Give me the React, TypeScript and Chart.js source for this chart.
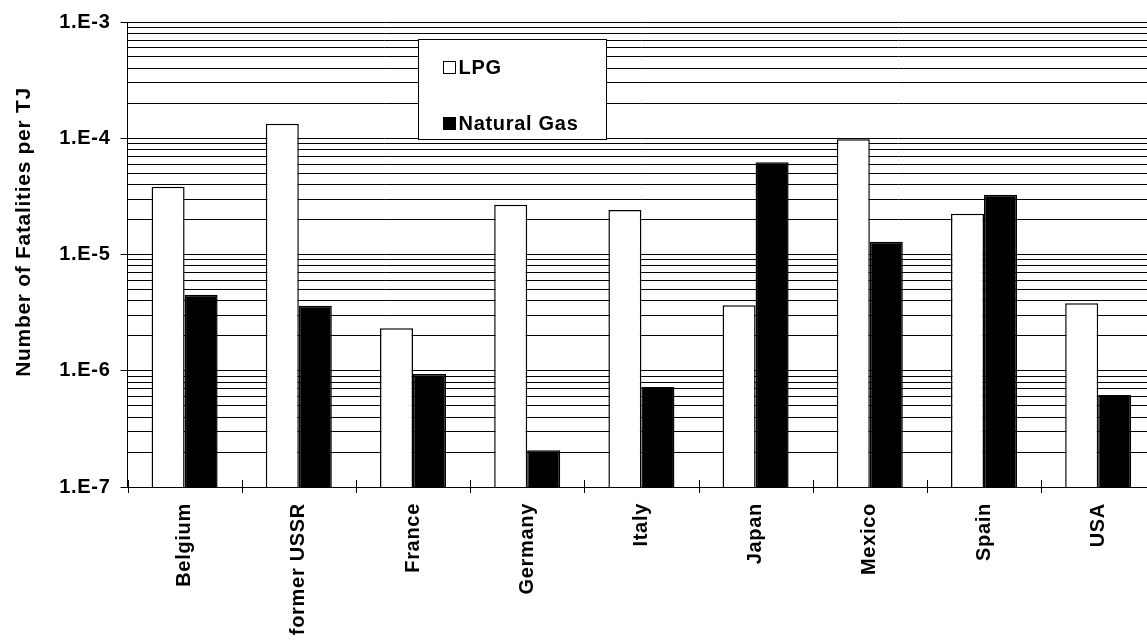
import React, { useEffect, useRef } from 'react';
import { Chart, registerables } from 'chart.js';

Chart.register(...registerables);

const categories = ['Belgium', 'former USSR', 'France', 'Germany', 'Italy', 'Japan', 'Mexico', 'Spain', 'USA'];
const lpgValues = [3.83e-5, 1.33e-4, 2.32e-6, 2.68e-5, 2.41e-5, 3.66e-6, 9.8e-5, 2.24e-5, 3.8e-6];
const naturalGasValues = [4.51e-6, 3.63e-6, 9.37e-7, 2.07e-7, 7.25e-7, 6.21e-5, 1.29e-5, 3.27e-5, 6.2e-7];
const seriesLabels = ['LPG', 'Natural Gas'];
const yMajorValues = [1e-7, 1e-6, 1e-5, 1e-4, 1e-3];
const yTickLabels = ['1.E-7', '1.E-6', '1.E-5', '1.E-4', '1.E-3'];
const yMinorMultipliers = [1, 2, 3, 4, 5, 6, 7, 8, 9];
const yAxisTitle = 'Number of Fatalities per TJ';

const FONT_FAMILY = "'Liberation Sans', Arial, Helvetica, sans-serif";
const SPACING = '0.7px';

const yGridValues: number[] = [];
yMajorValues.forEach((m, i) => {
  if (i === yMajorValues.length - 1) {
    yGridValues.push(m);
  } else {
    yMinorMultipliers.forEach((k) => yGridValues.push(k * m));
  }
});

const isMajor = (v: number) => yMajorValues.some((m) => Math.abs(v / m - 1) < 1e-6);
const labelFor = (v: number) => {
  const i = yMajorValues.findIndex((m) => Math.abs(v / m - 1) < 1e-6);
  return i >= 0 ? yTickLabels[i] : '';
};

const spacingPlugin = {
  id: 'spacing',
  beforeUpdate(chart: any) {
    chart.ctx.letterSpacing = SPACING;
  },
  beforeDraw(chart: any) {
    chart.ctx.letterSpacing = SPACING;
  },
};

const decorPlugin = {
  id: 'decor',
  afterDraw(chart: any) {
    const { ctx, chartArea } = chart;
    const xs = chart.scales.x;
    ctx.save();
    ctx.letterSpacing = SPACING;
    ctx.strokeStyle = '#000';
    ctx.lineWidth = 1;
    // category boundary tick marks crossing the x axis
    for (let k = 0; k <= categories.length; k++) {
      const px = Math.round(xs.getPixelForValue(k - 0.5)) + 0.5;
      ctx.beginPath();
      ctx.moveTo(px, chartArea.bottom - 7);
      ctx.lineTo(px, chartArea.bottom + 6);
      ctx.stroke();
    }
    // y axis title
    ctx.save();
    ctx.translate(24, 232);
    ctx.rotate(-Math.PI / 2);
    ctx.font = `bold 21px ${FONT_FAMILY}`;
    ctx.fillStyle = '#000';
    ctx.textAlign = 'center';
    ctx.textBaseline = 'middle';
    ctx.fillText(yAxisTitle, 0, 0);
    ctx.restore();
    // legend box
    const bx = Math.round(chartArea.left + 290) + 0.5;
    const by = Math.round(chartArea.top + 17) + 0.5;
    ctx.fillStyle = '#fff';
    ctx.fillRect(bx, by, 188, 100);
    ctx.strokeStyle = '#000';
    ctx.lineWidth = 1;
    ctx.strokeRect(bx, by, 188, 100);
    ctx.font = `bold 20px ${FONT_FAMILY}`;
    ctx.textAlign = 'left';
    ctx.textBaseline = 'alphabetic';
    const rows = [22, 78];
    chart.data.datasets.forEach((ds: any, i: number) => {
      const sy = by + rows[i];
      ctx.fillStyle = ds.backgroundColor;
      ctx.fillRect(bx + 25, sy, 12, 12);
      ctx.strokeStyle = '#000';
      ctx.strokeRect(bx + 25, sy, 12, 12);
      ctx.fillStyle = '#000';
      ctx.fillText(ds.label, bx + 40, sy + 12.5);
    });
    ctx.restore();
  },
};

export default function App() {
  const ref = useRef<HTMLCanvasElement | null>(null);

  useEffect(() => {
    if (!ref.current) return;
    const font = { family: FONT_FAMILY, size: 20, weight: 'bold' as const };
    const chart = new Chart(ref.current, {
      type: 'bar',
      data: {
        labels: categories,
        datasets: [
          {
            label: seriesLabels[0],
            data: lpgValues,
            backgroundColor: '#ffffff',
            borderColor: '#000000',
            borderWidth: 1.5,
            barPercentage: 1,
            categoryPercentage: 0.578,
          },
          {
            label: seriesLabels[1],
            data: naturalGasValues,
            backgroundColor: '#000000',
            borderColor: '#000000',
            borderWidth: 1.5,
            barPercentage: 1,
            categoryPercentage: 0.578,
          },
        ],
      },
      options: {
        responsive: false,
        animation: false,
        devicePixelRatio: 1,
        layout: { padding: { left: 0, top: 22, right: 14.7, bottom: 0 } },
        plugins: {
          legend: { display: false },
          tooltip: { enabled: false },
        },
        scales: {
          x: {
            type: 'category',
            offset: true,
            grid: { display: false, offset: true },
            border: { display: true, color: '#000', width: 1 },
            ticks: {
              color: '#000',
              font,
              maxRotation: 90,
              minRotation: 90,
              padding: 8,
              autoSkip: false,
            },
            afterFit: (s: any) => {
              s.height = 154;
            },
          },
          y: {
            type: 'logarithmic',
            min: 1e-7,
            max: 1e-3,
            afterBuildTicks: (s: any) => {
              s.ticks = yGridValues.map((v) => ({ value: v }));
            },
            ticks: {
              callback: (v: any) => labelFor(Number(v)),
              autoSkip: false,
              padding: 10,
              color: '#000',
              font,
            },
            grid: {
              color: '#000',
              lineWidth: 1,
              tickLength: 7,
              tickColor: (c: any) => (c.tick && isMajor(c.tick.value) ? '#000' : 'rgba(0,0,0,0)'),
            },
            border: { display: true, color: '#000', width: 1 },
            afterFit: (s: any) => {
              s.width = 127.5;
            },
          },
        },
      },
      plugins: [spacingPlugin, decorPlugin],
    } as any);
    return () => chart.destroy();
  }, []);

  return (
    <div
      style={{
        position: 'fixed',
        left: 0,
        top: 0,
        width: 1147,
        height: 641,
        overflow: 'hidden',
        background: '#fff',
      }}
    >
      <canvas ref={ref} width={1170} height={641} style={{ display: 'block' }} />
    </div>
  );
}
